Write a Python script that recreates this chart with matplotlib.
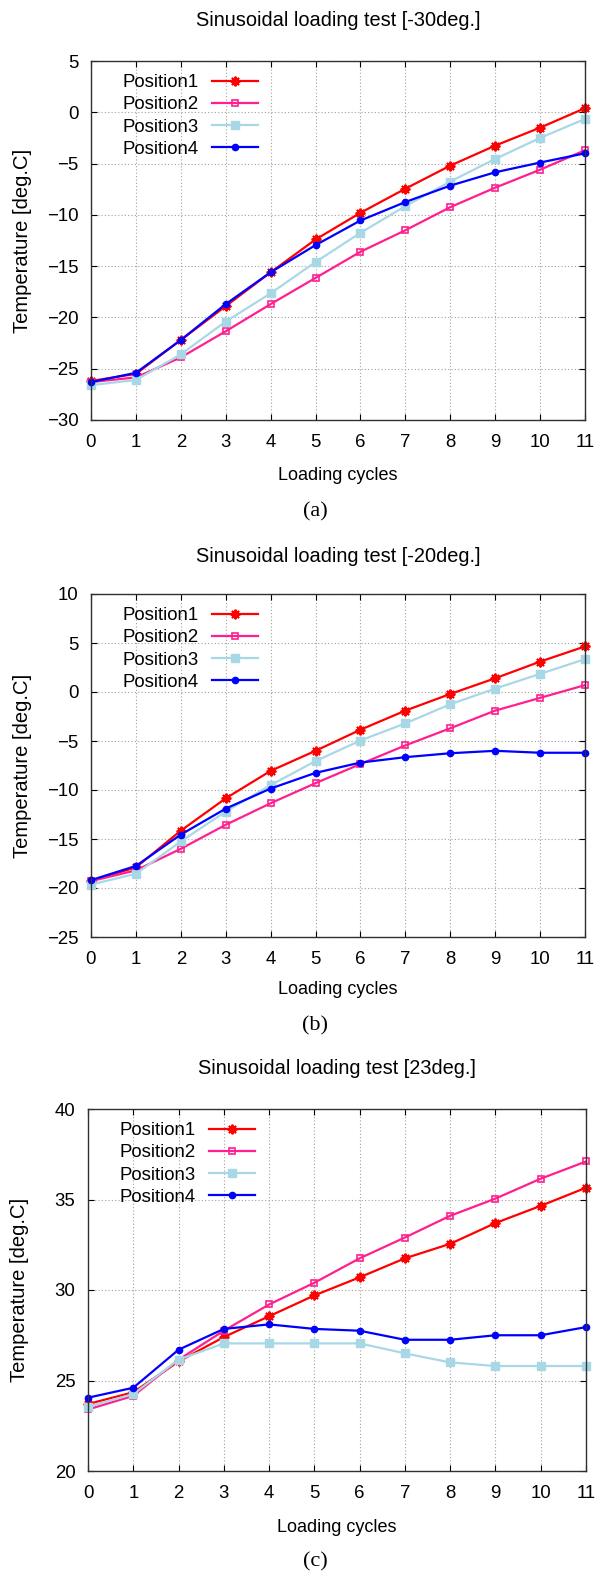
import matplotlib
matplotlib.use("Agg")
import matplotlib.pyplot as plt
import numpy as np

plt.rcParams['font.family'] = ['Liberation Sans', 'DejaVu Sans']

cycles = list(range(12))
series_names = ["Position1", "Position2", "Position3", "Position4"]

# Panel (a) -30deg
a_pos1 = [-26.2, -25.5, -22.2, -18.9, -15.6, -12.4, -9.8, -7.45, -5.2, -3.25, -1.5, 0.4]
a_pos2 = [-26.3, -25.85, -23.9, -21.35, -18.7, -16.15, -13.6, -11.5, -9.25, -7.35, -5.6, -3.7]
a_pos3 = [-26.6, -26.1, -23.6, -20.4, -17.65, -14.6, -11.75, -9.15, -6.75, -4.55, -2.5, -0.65]
a_pos4 = [-26.3, -25.4, -22.2, -18.7, -15.6, -12.95, -10.55, -8.75, -7.15, -5.85, -4.9, -4.0]

# Panel (b) -20deg
b_pos1 = [-19.25, -17.9, -14.15, -10.85, -8.05, -6.0, -3.85, -1.9, -0.2, 1.4, 3.1, 4.65]
b_pos2 = [-19.3, -18.2, -16.0, -13.55, -11.35, -9.3, -7.35, -5.45, -3.7, -1.9, -0.6, 0.7]
b_pos3 = [-19.65, -18.55, -15.25, -12.2, -9.5, -7.05, -4.95, -3.2, -1.25, 0.35, 1.85, 3.35]
b_pos4 = [-19.2, -17.75, -14.55, -11.9, -9.85, -8.25, -7.2, -6.65, -6.25, -6.0, -6.2, -6.2]

# Panel (c) 23deg
c_pos1 = [23.7, 24.35, 26.05, 27.4, 28.55, 29.7, 30.7, 31.75, 32.55, 33.7, 34.65, 35.65]
c_pos2 = [23.4, 24.15, 26.15, 27.75, 29.2, 30.4, 31.75, 32.9, 34.1, 35.05, 36.15, 37.1]
c_pos3 = [23.55, 24.25, 26.15, 27.05, 27.05, 27.05, 27.05, 26.5, 26.0, 25.8, 25.8, 25.8]
c_pos4 = [24.05, 24.6, 26.7, 27.85, 28.1, 27.85, 27.75, 27.25, 27.25, 27.5, 27.5, 27.95]

titles = ["Sinusoidal loading test [-30deg.]",
          "Sinusoidal loading test [-20deg.]",
          "Sinusoidal loading test [23deg.]"]
captions = ["(a)", "(b)", "(c)"]
y_limits = [(-30, 5), (-25, 10), (20, 40)]
y_steps = [5, 5, 5]
xlabel_text = "Loading cycles"
ylabel_text = "Temperature [deg.C]"

panels = [
    [a_pos1, a_pos2, a_pos3, a_pos4],
    [b_pos1, b_pos2, b_pos3, b_pos4],
    [c_pos1, c_pos2, c_pos3, c_pos4],
]

W, H = 598, 1578
fig = plt.figure(figsize=(W / 100, H / 100), dpi=100)

# layout in pixels: left, right, top, bottom
boxes = [(91, 585, 61, 420), (91, 585, 594, 937), (88, 586, 1109, 1471)]
title_y = [20, 556, 1069]
xlabel_y = [476, 990, 1528]
caption_y = [512, 1026, 1562]
ylabel_x = [23, 23, 20]

styles = [
    dict(color='#ff0000', marker=(8, 2, 0), markersize=7, markeredgewidth=1.4),
    dict(color='#ff1f8f', marker='s', markersize=5, markerfacecolor='none', markeredgewidth=1.2),
    dict(color='#a8d8e6', marker='s', markersize=6),
    dict(color='#0000ff', marker='o', markersize=4.5),
]

FS = 13.4

for i in range(3):
    l, r, t, b = boxes[i]
    ax = fig.add_axes([l / W, 1 - b / H, (r - l) / W, (b - t) / H])
    for name, vals, st in zip(series_names, panels[i], styles):
        ax.plot(cycles, vals, label=name, linewidth=1.6, clip_on=False, **st)
    lo, hi = y_limits[i]
    ax.set_xlim(0, 11)
    ax.set_ylim(lo, hi)
    ax.set_xticks(cycles)
    ax.set_yticks(np.arange(lo, hi + 0.1, y_steps[i]))
    ax.grid(True, color='#a0a0a0', linestyle=(0, (1, 2)), linewidth=0.8)
    ax.tick_params(direction='in', length=4, top=True, right=True,
                   labelsize=FS, colors='black')
    ax.tick_params(axis='x', pad=10)
    ax.tick_params(axis='y', pad=9)
    for s in ax.spines.values():
        s.set_color('#303030')
        s.set_linewidth(1.0)
    ax.legend(loc='upper left', bbox_to_anchor=(0.037, 1.0), frameon=False,
              markerfirst=False, fontsize=FS, handlelength=2.5,
              labelspacing=0.28, handletextpad=0.7, borderaxespad=0.3)
    cx = (l + r) / 2 / W
    fig.text(cx, 1 - title_y[i] / H, titles[i], ha='center', va='center', fontsize=14.4)
    fig.text(cx, 1 - xlabel_y[i] / H, xlabel_text, ha='center', va='center', fontsize=13)
    fig.text(ylabel_x[i] / W, 1 - (t + b) / 2 / H, ylabel_text, ha='center', va='center',
             rotation=90, fontsize=14.5)
    fig.text(315 / W, 1 - caption_y[i] / H, captions[i], ha='center', va='center',
             fontsize=16, family=['Liberation Serif', 'DejaVu Serif'])

fig.savefig("out.png", dpi=100)
